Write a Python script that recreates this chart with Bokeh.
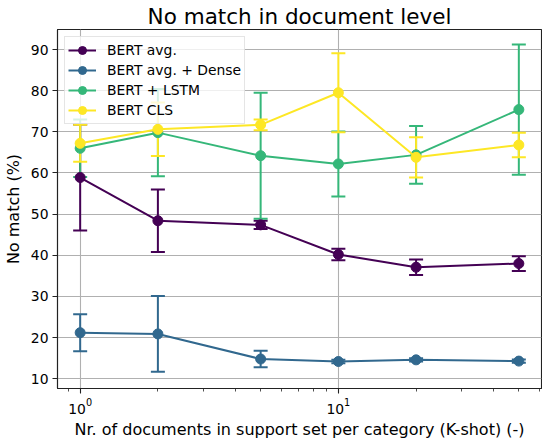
from bokeh.plotting import figure
from bokeh.models import (ColumnDataSource, Whisker, TeeHead, FixedTicker, Range1d,
                          Legend, LegendItem)
from bokeh.embed import file_html
from bokeh.resources import INLINE

# ---- data ----
k_shot = [1, 2, 5, 10, 20, 50]

series_names = ["BERT avg.", "BERT avg. + Dense", "BERT + LSTM", "BERT CLS"]
series_colors = ["#440154", "#31688e", "#35b779", "#fde725"]

bert_avg = [58.9, 48.4, 47.4, 40.2, 37.1, 38.0]
bert_avg_err = [12.9, 7.6, 1.0, 1.4, 1.9, 1.8]

bert_dense = [21.2, 20.9, 14.8, 14.2, 14.6, 14.3]
bert_dense_err = [4.5, 9.2, 2.0, 0.4, 0.4, 0.4]

bert_lstm = [66.0, 69.8, 64.2, 62.2, 64.4, 75.4]
bert_lstm_err = [7.0, 10.6, 15.3, 7.9, 7.0, 15.8]

bert_cls = [67.2, 70.6, 71.7, 79.5, 63.8, 66.8]
bert_cls_err = [4.5, 6.5, 1.3, 9.6, 4.9, 3.0]

x_major_ticks = [1, 10]
x_minor_ticks = [0.9, 2, 3, 4, 5, 6, 7, 8, 9, 20, 30, 40, 50, 60]
y_ticks = [10, 20, 30, 40, 50, 60, 70, 80, 90]

values = [bert_avg, bert_dense, bert_lstm, bert_cls]
errors = [bert_avg_err, bert_dense_err, bert_lstm_err, bert_cls_err]

FONT = "DejaVu Sans"

p = figure(frame_width=484, frame_height=359, x_axis_type="log",
           x_range=Range1d(0.817, 61.2), y_range=Range1d(7.64, 94.86),
           output_backend="svg", toolbar_location=None,
           title="No match in document level",
           min_border_left=57, min_border_right=1, min_border_top=27, min_border_bottom=40)

p.title.align = "center"
p.title.text_font = FONT
p.title.text_font_size = "21.5px"
p.title.text_font_style = "normal"
p.title.text_color = "#000000"
p.title.standoff = 2

p.outline_line_color = "#222222"
p.outline_line_width = 1.1
p.outline_line_alpha = 1.0
p.background_fill_color = "white"

p.xaxis.ticker = FixedTicker(ticks=x_major_ticks, minor_ticks=x_minor_ticks)
p.yaxis.ticker = FixedTicker(ticks=y_ticks, minor_ticks=[])

for ax in (p.xaxis[0], p.yaxis[0]):
    ax.axis_line_color = "#222222"
    ax.axis_line_width = 1.1
    ax.major_tick_line_color = "#222222"
    ax.minor_tick_line_color = "#222222"
    ax.major_tick_line_width = 1.1
    ax.minor_tick_line_width = 0.8
    ax.major_tick_in = 0
    ax.major_tick_out = 5
    ax.minor_tick_in = 0
    ax.minor_tick_out = 3
    ax.major_label_text_font = FONT
    ax.major_label_text_font_size = "13.9px"
    ax.major_label_text_color = "#000000"
    ax.axis_label_text_font = FONT
    ax.axis_label_text_font_size = "16px"
    ax.axis_label_text_font_style = "normal"
    ax.axis_label_text_color = "#000000"
    ax.major_label_standoff = 4

p.xaxis.axis_label = "Nr. of documents in support set per category (K-shot) (-)"
p.yaxis.axis_label = "No match (%)"
p.xaxis.axis_label_standoff = 3
p.yaxis.axis_label_standoff = 5

p.xgrid.grid_line_color = "#b0b0b0"
p.ygrid.grid_line_color = "#b0b0b0"
p.xgrid.grid_line_width = 1.1
p.ygrid.grid_line_width = 1.1

legend_items = []
for name, color, vals, errs in zip(series_names, series_colors, values, errors):
    src = ColumnDataSource(dict(
        x=k_shot, y=vals,
        lower=[v - e for v, e in zip(vals, errs)],
        upper=[v + e for v, e in zip(vals, errs)],
    ))
    whisk = Whisker(source=src, base="x", lower="lower", upper="upper", dimension="height",
                    line_color=color, line_width=2,
                    upper_head=TeeHead(size=14, line_color=color, line_width=2),
                    lower_head=TeeHead(size=14, line_color=color, line_width=2))
    p.add_layout(whisk)
    ln = p.line("x", "y", source=src, line_color=color, line_width=2)
    vbar_mark = p.scatter("x", "y", source=src, marker="dash", angle=1.5708, size=8,
                          line_color=color, line_width=2)
    mk = p.scatter("x", "y", source=src, marker="circle", size=10,
                   fill_color=color, line_color=color)
    legend_items.append(LegendItem(label=name, renderers=[ln, vbar_mark, mk]))

legend = Legend(items=legend_items, location="top_left")
legend.margin = 7
legend.padding = 3
legend.spacing = 0
legend.glyph_height = 20
legend.glyph_width = 28
legend.label_height = 20
legend.label_standoff = 11
legend.label_text_font = FONT
legend.label_text_font_size = "13.9px"
legend.label_text_color = "#000000"
legend.background_fill_color = "white"
legend.background_fill_alpha = 0.8
legend.border_line_color = "#cccccc"
legend.border_line_width = 1
p.add_layout(legend, "center")

open("out.html", "w").write(file_html(p, INLINE))
